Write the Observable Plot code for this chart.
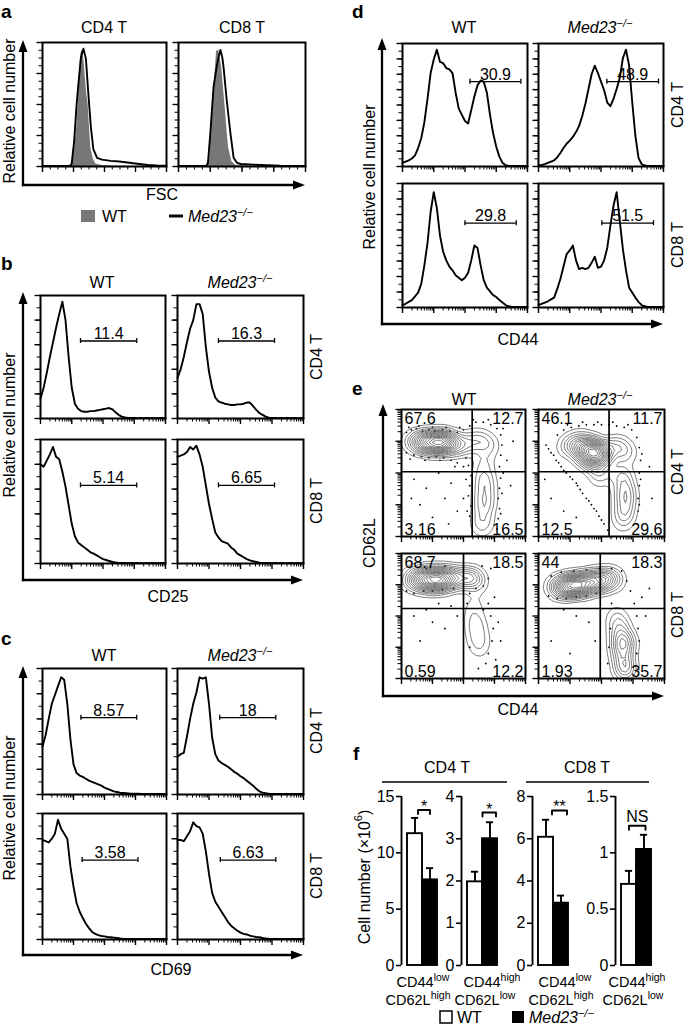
<!DOCTYPE html>
<html><head><meta charset="utf-8">
<script src="https://cdn.jsdelivr.net/npm/d3@7"></script>
<script src="https://cdn.jsdelivr.net/npm/@observablehq/plot@0.6"></script>
<style>
body{margin:0;background:#fff;}
#fig{position:relative;width:685px;height:1034px;overflow:hidden;background:#fff;}
</style></head><body><div id="fig"></div>
<script>
// ================= DATA =================
// Panel a: FSC histograms, [fraction of FSC range, relative cell number]
const aCD4_WT  = [[0,0],[0.22,0],[0.24,0.02],[0.26,0.15],[0.277,0.32],[0.29,0.55],[0.296,0.67],[0.305,0.85],[0.31,0.91],[0.317,0.94],[0.325,0.92],[0.335,0.85],[0.345,0.72],[0.355,0.6],[0.368,0.5],[0.378,0.33],[0.39,0.15],[0.41,0.06],[0.43,0.02],[0.48,0.008],[0.6,0.003],[1,0]];
const aCD4_Med = [[0,0.004],[0.22,0.005],[0.235,0.02],[0.255,0.2],[0.275,0.5],[0.29,0.67],[0.31,0.88],[0.33,0.95],[0.35,0.87],[0.368,0.61],[0.39,0.32],[0.41,0.14],[0.44,0.07],[0.48,0.055],[0.55,0.045],[0.62,0.04],[0.7,0.03],[0.78,0.02],[0.85,0.012],[0.92,0.008],[1,0.006]];
const aCD8_WT  = [[0,0],[0.23,0],[0.245,0.05],[0.26,0.37],[0.275,0.6],[0.29,0.78],[0.30,0.93],[0.316,0.94],[0.325,0.9],[0.34,0.8],[0.355,0.62],[0.37,0.45],[0.385,0.25],[0.395,0.15],[0.42,0.04],[0.45,0.01],[0.55,0.004],[1,0]];
const aCD8_Med = [[0,0.004],[0.22,0.005],[0.232,0.03],[0.25,0.26],[0.276,0.64],[0.30,0.8],[0.315,0.88],[0.33,0.94],[0.345,0.88],[0.355,0.8],[0.38,0.53],[0.41,0.26],[0.434,0.07],[0.46,0.03],[0.49,0.02],[0.59,0.015],[0.7,0.01],[0.8,0.006],[1,0.005]];

// Panels b-d: histograms on an even grid over 4 log decades (41 bins)
const bCD4_WT  = [0.16,0.25,0.37,0.50,0.62,0.74,0.85,0.95,0.80,0.50,0.25,0.12,0.08,0.06,0.055,0.055,0.06,0.06,0.065,0.07,0.075,0.08,0.085,0.075,0.05,0.03,0.015,0.008,0.005,0.004,0.005,0.003,0.004,0.003,0.004,0.003,0.004,0.003,0.003,0.004,0.003];
const bCD4_Med = [0.33,0.40,0.50,0.62,0.73,0.80,0.93,0.93,0.85,0.58,0.38,0.25,0.17,0.14,0.13,0.12,0.115,0.11,0.11,0.115,0.115,0.12,0.13,0.13,0.10,0.07,0.045,0.03,0.015,0.006,0.004,0.005,0.003,0.004,0.003,0.004,0.003,0.004,0.003,0.003,0.004];
const bCD8_WT  = [0.80,0.78,0.83,0.88,0.94,0.86,0.84,0.74,0.62,0.47,0.32,0.22,0.17,0.15,0.13,0.11,0.09,0.08,0.065,0.05,0.035,0.028,0.02,0.012,0.008,0.005,0.004,0.004,0.003,0.004,0.003,0.004,0.003,0.003,0.004,0.003,0.004,0.003,0.003,0.004,0.003];
const bCD8_Med = [0.86,0.87,0.88,0.90,0.94,0.92,0.95,0.88,0.78,0.63,0.48,0.36,0.25,0.21,0.18,0.17,0.16,0.13,0.11,0.08,0.065,0.05,0.035,0.025,0.018,0.012,0.006,0.005,0.004,0.004,0.003,0.004,0.003,0.004,0.003,0.003,0.004,0.003,0.004,0.003,0.003];
const cCD4_WT  = [0.38,0.47,0.60,0.72,0.79,0.86,0.93,0.91,0.72,0.44,0.24,0.17,0.15,0.14,0.125,0.11,0.10,0.09,0.08,0.07,0.055,0.045,0.035,0.025,0.02,0.014,0.012,0.01,0.008,0.007,0.006,0.006,0.005,0.005,0.004,0.005,0.004,0.004,0.005,0.004,0.004];
const cCD4_Med = [0.30,0.32,0.33,0.46,0.60,0.72,0.81,0.93,0.92,0.93,0.72,0.45,0.32,0.27,0.25,0.235,0.22,0.20,0.18,0.165,0.145,0.13,0.11,0.09,0.07,0.045,0.025,0.015,0.01,0.006,0.005,0.004,0.005,0.004,0.004,0.005,0.004,0.004,0.005,0.004,0.004];
const cCD8_WT  = [0.79,0.78,0.77,0.80,0.84,0.95,0.88,0.84,0.80,0.58,0.42,0.29,0.22,0.17,0.125,0.09,0.06,0.045,0.035,0.028,0.025,0.02,0.018,0.015,0.012,0.008,0.006,0.005,0.005,0.004,0.004,0.005,0.004,0.004,0.005,0.004,0.004,0.005,0.004,0.004,0.004];
const cCD8_Med = [0.79,0.79,0.78,0.82,0.86,0.93,0.90,0.89,0.84,0.70,0.52,0.37,0.30,0.26,0.22,0.18,0.14,0.11,0.09,0.07,0.055,0.045,0.04,0.03,0.025,0.02,0.018,0.012,0.008,0.006,0.005,0.005,0.004,0.005,0.004,0.004,0.005,0.004,0.004,0.004,0.004];
const dCD4_WT  = [0.03,0.04,0.05,0.065,0.09,0.15,0.23,0.36,0.55,0.76,0.87,0.95,0.85,0.84,0.80,0.79,0.76,0.60,0.47,0.42,0.37,0.35,0.46,0.57,0.66,0.70,0.69,0.60,0.42,0.27,0.16,0.08,0.03,0.01,0.005,0.004,0.005,0.004,0.004,0.005,0.004];
const dCD4_Med = [0.01,0.012,0.02,0.03,0.04,0.05,0.075,0.11,0.15,0.185,0.21,0.24,0.28,0.33,0.41,0.51,0.63,0.75,0.82,0.76,0.69,0.62,0.52,0.49,0.55,0.63,0.72,0.88,0.95,0.82,0.52,0.25,0.07,0.02,0.008,0.005,0.004,0.005,0.004,0.004,0.004];
const dCD8_WT  = [0.02,0.03,0.045,0.06,0.09,0.12,0.19,0.34,0.52,0.77,0.93,0.80,0.58,0.45,0.38,0.33,0.30,0.26,0.24,0.22,0.24,0.28,0.38,0.50,0.48,0.34,0.22,0.16,0.13,0.10,0.085,0.06,0.04,0.02,0.01,0.005,0.004,0.005,0.004,0.004,0.004];
const dCD8_Med = [0.02,0.03,0.04,0.05,0.065,0.08,0.15,0.23,0.33,0.43,0.46,0.50,0.38,0.31,0.32,0.31,0.32,0.36,0.41,0.32,0.33,0.38,0.48,0.66,0.82,0.93,0.70,0.47,0.30,0.16,0.12,0.08,0.045,0.02,0.01,0.005,0.004,0.005,0.004,0.004,0.004];

// gates: [x1, x2, y, percentage]
const bGates = [[0.32,0.77,0.63,"11.4"],[0.325,0.77,0.63,"16.3"],[0.32,0.77,0.63,"5.14"],[0.325,0.77,0.63,"6.65"]];
const cGates = [[0.31,0.76,0.61,"8.57"],[0.335,0.78,0.61,"18"],[0.32,0.77,0.63,"3.58"],[0.34,0.78,0.63,"6.63"]];
const dGates = [[0.54,0.947,0.69,"30.9"],[0.547,0.96,0.69,"48.9"],[0.50,0.91,0.68,"29.8"],[0.507,0.92,0.68,"51.5"]];

// Panel e: contour plots. seeds = [CD44, CD62L, weight]; outlier dots = [CD44, CD62L]
const eSeeds = [
  [[0.06,0.74,2],[0.10,0.75,4],[0.14,0.75,6],[0.18,0.74,8],[0.22,0.74,10],[0.26,0.74,12],[0.30,0.74,12],[0.34,0.745,11],[0.38,0.74,9],[0.42,0.73,6],[0.46,0.72,4],[0.50,0.72,3],[0.56,0.74,4],[0.62,0.76,5],[0.68,0.74,4],[0.72,0.7,2.5],[0.66,0.6,3],[0.66,0.52,4],[0.67,0.44,5],[0.67,0.36,6],[0.67,0.28,6],[0.66,0.2,5],[0.65,0.12,4],[0.65,0.06,3]],
  [[0.2,0.7,2],[0.26,0.72,4],[0.32,0.7,6],[0.38,0.68,9],[0.44,0.67,11],[0.48,0.66,10],[0.52,0.64,7],[0.42,0.6,5],[0.36,0.62,4],[0.46,0.56,4],[0.5,0.5,3],[0.48,0.44,2],[0.4,0.74,5],[0.3,0.76,3],[0.6,0.72,4],[0.66,0.7,4],[0.7,0.65,3.5],[0.66,0.5,4],[0.68,0.42,5],[0.69,0.34,6],[0.69,0.26,6],[0.68,0.18,5],[0.67,0.1,3]],
  [[0.05,0.78,2],[0.1,0.79,5],[0.15,0.8,8],[0.2,0.79,10],[0.25,0.79,12],[0.3,0.79,11],[0.35,0.8,9],[0.4,0.8,7],[0.45,0.8,5],[0.52,0.81,5],[0.57,0.81,6],[0.62,0.78,3],[0.6,0.66,1.5],[0.58,0.56,2],[0.59,0.46,3],[0.61,0.38,3.5],[0.62,0.3,3],[0.63,0.22,2]],
  [[0.12,0.73,3],[0.17,0.73,6],[0.22,0.74,9],[0.27,0.74,11],[0.32,0.75,10],[0.37,0.76,9],[0.42,0.77,8],[0.47,0.78,7],[0.52,0.79,6],[0.57,0.8,5],[0.62,0.79,3],[0.62,0.5,3],[0.64,0.42,4],[0.65,0.34,5],[0.66,0.26,6],[0.67,0.18,6],[0.68,0.1,5],[0.69,0.05,5],[0.7,0.3,4]]
];
const eDots = [
  [[0.04,0.82],[0.08,0.84],[0.12,0.85],[0.17,0.83],[0.22,0.84],[0.27,0.83],[0.33,0.84],[0.39,0.83],[0.45,0.82],[0.50,0.84],[0.55,0.87],[0.6,0.9],[0.66,0.9],[0.72,0.88],[0.77,0.85],[0.06,0.86],[0.14,0.87],[0.25,0.86],[0.36,0.86],[0.47,0.86],[0.58,0.92],[0.7,0.92],[0.04,0.66],[0.1,0.64],[0.16,0.63],[0.22,0.62],[0.28,0.63],[0.34,0.62],[0.4,0.6],[0.45,0.58],[0.5,0.55],[0.52,0.62],[0.07,0.61],[0.19,0.6],[0.31,0.6],[0.43,0.55],[0.8,0.8],[0.81,0.72],[0.8,0.64],[0.79,0.55],[0.8,0.46],[0.79,0.38],[0.78,0.3],[0.79,0.22],[0.78,0.14],[0.77,0.06],[0.82,0.5],[0.81,0.34],[0.8,0.18],[0.82,0.85],[0.56,0.48],[0.55,0.4],[0.54,0.32],[0.56,0.24],[0.55,0.16],[0.57,0.08],[0.52,0.45],[0.5,0.3],[0.53,0.2],[0.54,0.56],[0.1,0.45],[0.2,0.38],[0.3,0.5],[0.15,0.25],[0.35,0.3],[0.25,0.15],[0.4,0.42],[0.45,0.2],[0.08,0.3],[0.38,0.1],[0.85,0.6],[0.9,0.75],[0.88,0.4]],
  [[0.15,0.8],[0.2,0.84],[0.26,0.86],[0.32,0.87],[0.38,0.88],[0.44,0.88],[0.5,0.88],[0.56,0.88],[0.62,0.87],[0.68,0.86],[0.74,0.84],[0.78,0.78],[0.23,0.88],[0.35,0.9],[0.47,0.9],[0.59,0.9],[0.71,0.88],[0.06,0.72],[0.1,0.66],[0.14,0.6],[0.18,0.55],[0.22,0.5],[0.27,0.45],[0.31,0.4],[0.35,0.34],[0.4,0.28],[0.44,0.22],[0.48,0.16],[0.52,0.1],[0.55,0.05],[0.12,0.64],[0.2,0.52],[0.3,0.42],[0.38,0.3],[0.46,0.2],[0.08,0.69],[0.16,0.58],[0.25,0.47],[0.33,0.37],[0.42,0.25],[0.5,0.13],[0.8,0.7],[0.81,0.6],[0.8,0.5],[0.8,0.4],[0.79,0.3],[0.79,0.2],[0.78,0.1],[0.82,0.65],[0.81,0.45],[0.8,0.25],[0.1,0.3],[0.2,0.2],[0.05,0.45],[0.3,0.15],[0.88,0.55],[0.9,0.3]],
  [[0.04,0.7],[0.1,0.68],[0.18,0.7],[0.25,0.7],[0.33,0.71],[0.42,0.72],[0.5,0.7],[0.55,0.68],[0.6,0.72],[0.66,0.74],[0.7,0.8],[0.72,0.88],[0.65,0.9],[0.5,0.9],[0.35,0.9],[0.2,0.88],[0.7,0.6],[0.72,0.5],[0.74,0.4],[0.73,0.3],[0.7,0.2],[0.68,0.12],[0.75,0.65],[0.78,0.45],[0.66,0.55],[0.55,0.25],[0.53,0.6],[0.8,0.3],[0.76,0.15],[0.62,0.08],[0.1,0.5],[0.2,0.55],[0.3,0.6],[0.4,0.58],[0.15,0.3],[0.35,0.4],[0.45,0.5],[0.25,0.45]],
  [[0.08,0.66],[0.15,0.64],[0.22,0.64],[0.3,0.65],[0.38,0.66],[0.46,0.68],[0.1,0.82],[0.18,0.85],[0.28,0.86],[0.38,0.87],[0.48,0.88],[0.58,0.88],[0.66,0.86],[0.7,0.78],[0.73,0.7],[0.76,0.6],[0.78,0.5],[0.79,0.4],[0.8,0.3],[0.78,0.2],[0.77,0.1],[0.58,0.6],[0.57,0.4],[0.56,0.25],[0.55,0.12],[0.2,0.55],[0.3,0.5],[0.4,0.45],[0.1,0.3],[0.25,0.2],[0.45,0.3],[0.85,0.5],[0.88,0.72],[0.82,0.65]]
];
const eQuadX = [0.57, 0.56, 0.50, 0.49];
const eQuadY = [0.51, 0.51, 0.56, 0.56];
const eLabels = [["67.6","12.7","3.16","16.5"],["46.1","11.7","12.5","29.6"],["68.7","18.5","0.59","12.2"],["44","18.3","1.93","35.7"]];

// Panel f: cell numbers (x10^6)
const fSubsets = ["CD4 CD44low CD62Lhigh","CD4 CD44high CD62Llow","CD8 CD44low CD62Lhigh","CD8 CD44high CD62Llow"];
const fWT     = [11.7, 1.98, 6.07, 0.72];
const fWTErr  = [1.4, 0.24, 0.83, 0.12];
const fMed    = [7.6, 3.0, 2.95, 1.03];
const fMedErr = [1.04, 0.39, 0.36, 0.13];
const fMax    = [15, 4, 8, 1.5];
const fTicks  = [[0,5,10,15],[0,1,2,3,4],[0,2,4,6,8],[0,0.5,1,1.5]];
const fSig    = ["*","*","**","NS"];
const fSigY   = [13.8, 3.62, 7.34, 1.24];
const fCD44   = ["low","high","low","high"];
const fCD62L  = ["high","low","high","low"];

// ================= DRAWING =================
const FONT = '"Liberation Sans", Arial, Helvetica, sans-serif';
const FS = 16;
const fig = document.getElementById("fig");
function put(el, left, top) {
  el.style.position = "absolute";
  el.style.left = left + "px";
  el.style.top = top + "px";
  fig.appendChild(el);
}
const grid = v => v.map((y, i) => [i / (v.length - 1), y]);

const logT = {
  major: d3.range(0, 5).map(d => d / 4),
  minor: d3.range(0, 4).flatMap(d => d3.range(2, 10).map(k => (d + Math.log10(k)) / 4))
};
const lin16 = {major: d3.range(0, 17, 4).map(d => d / 16), minor: d3.range(0, 17).map(d => d / 16)};
const lin10 = {major: d3.range(0, 11, 2).map(d => d / 10), minor: d3.range(0, 11).map(d => d / 10)};
const lin16b = {major: d3.range(0, 17, 2).map(d => d / 16), minor: d3.range(0, 17).map(d => d / 16)};

// ticks drawn outside the frame through the x / y scales (lengths in px converted to data units)
function tickMarks(xt, yt, fw, fh) {
  const t = (len, size) => len / size;
  return [
    Plot.ruleX(xt.minor, {x: d => d, y1: 0, y2: -t(3.5, fh), stroke: "black", strokeWidth: 1}),
    Plot.ruleX(xt.major, {x: d => d, y1: 0, y2: -t(6, fh), stroke: "black", strokeWidth: 1.4}),
    Plot.ruleY(yt.minor, {y: d => d, x1: 0, x2: -t(3.5, fw), stroke: "black", strokeWidth: 1}),
    Plot.ruleY(yt.major, {y: d => d, x1: 0, x2: -t(5.5, fw), stroke: "black", strokeWidth: 1.4})
  ];
}

function baseOpts(fw, fh, ml, mr, mt, mb) {
  return {
    width: fw + ml + mr, height: fh + mt + mb,
    marginLeft: ml, marginRight: mr, marginTop: mt, marginBottom: mb,
    x: {domain: [0, 1], axis: null}, y: {domain: [0, 1], axis: null},
    style: {background: "none", overflow: "visible", fontFamily: FONT, fontSize: FS + "px", color: "black"}
  };
}

function hist(frame, curves, gate, xt, yt) {
  const [fx, fy, fw, fh] = frame;
  const ml = 8, mr = 2, mt = 2, mb = 8;
  const marks = [...tickMarks(xt, yt, fw, fh)];
  for (const c of curves) {
    if (c.fill) marks.push(Plot.areaY(c.pts, {x: d => d[0], y: d => d[1], fill: c.fill}));
    else marks.push(Plot.line(c.pts, {x: d => d[0], y: d => d[1], stroke: "black", strokeWidth: 1.9, strokeLinejoin: "round"}));
  }
  if (gate) {
    const [x1, x2, y, label] = gate;
    const cap = 2.5 / fh;
    marks.push(Plot.ruleY([y], {x1, x2, stroke: "black", strokeWidth: 1.3}));
    marks.push(Plot.ruleX([x1, x2], {y1: y - cap, y2: y + cap, stroke: "black", strokeWidth: 1.3}));
    marks.push(Plot.text([label], {x: (x1 + x2) / 2, y, text: d => d, dy: -2, lineAnchor: "bottom", fontSize: FS, fill: "black"}));
  }
  marks.push(Plot.frame({stroke: "black", strokeWidth: 2}));
  const p = Plot.plot({...baseOpts(fw, fh, ml, mr, mt, mb), marks});
  put(p, fx - ml, fy - mt);
}

// ---- a ----
hist([42, 42, 124, 124], [{pts: aCD4_WT, fill: "#777"}, {pts: aCD4_Med}], null, lin16, lin16);
hist([178, 42, 127, 124], [{pts: aCD8_WT, fill: "#777"}, {pts: aCD8_Med}], null, lin16, lin16);
// ---- b ----
hist([40, 295, 125, 123], [{pts: grid(bCD4_WT)}], bGates[0], logT, lin10);
hist([177, 295, 126, 123], [{pts: grid(bCD4_Med)}], bGates[1], logT, lin10);
hist([40, 439, 125, 124], [{pts: grid(bCD8_WT)}], bGates[2], logT, lin10);
hist([177, 439, 126, 124], [{pts: grid(bCD8_Med)}], bGates[3], logT, lin10);
// ---- c ----
hist([42, 668, 124, 126], [{pts: grid(cCD4_WT)}], cGates[0], logT, lin10);
hist([177, 668, 126, 126], [{pts: grid(cCD4_Med)}], cGates[1], logT, lin10);
hist([42, 813, 124, 126], [{pts: grid(cCD8_WT)}], cGates[2], logT, lin10);
hist([177, 813, 126, 126], [{pts: grid(cCD8_Med)}], cGates[3], logT, lin10);
// ---- d ----
hist([402, 43, 125, 123], [{pts: grid(dCD4_WT)}], dGates[0], logT, lin16b);
hist([538, 43, 125, 123], [{pts: grid(dCD4_Med)}], dGates[1], logT, lin16b);
hist([402, 183, 125, 124], [{pts: grid(dCD8_WT)}], dGates[2], logT, lin16b);
hist([538, 183, 125, 124], [{pts: grid(dCD8_Med)}], dGates[3], logT, lin16b);

// ---- e ----
const eFrames = [[401, 409, 124, 127], [538, 409, 126, 127], [401, 553, 124, 125], [538, 553, 126, 125]];
eFrames.forEach((fr, i) => {
  const [fx, fy, fw, fh] = fr;
  const ml = 8, mr = 2, mt = 2, mb = 8;
  const L = eLabels[i];
  const tx = {text: d => d, fontSize: FS, fill: "black"};
  const marks = [
    ...tickMarks(logT, logT, fw, fh),
    Plot.dot(eDots[i], {x: d => d[0], y: d => d[1], r: 0.9, fill: "black", stroke: null}),
    Plot.density(eSeeds[i], {x: d => d[0], y: d => d[1], weight: d => d[2], bandwidth: 5.5, thresholds: 16, stroke: "#444", strokeWidth: 0.7, clip: true}),
    Plot.ruleX([eQuadX[i]], {stroke: "black", strokeWidth: 1.7}),
    Plot.ruleY([eQuadY[i]], {stroke: "black", strokeWidth: 1.7}),
    Plot.text([L[0]], {...tx, frameAnchor: "top-left", textAnchor: "start", lineAnchor: "top", dx: 3, dy: 3}),
    Plot.text([L[1]], {...tx, frameAnchor: "top-right", textAnchor: "end", lineAnchor: "top", dx: -2, dy: 3}),
    Plot.text([L[2]], {...tx, frameAnchor: "bottom-left", textAnchor: "start", lineAnchor: "bottom", dx: 3, dy: -2}),
    Plot.text([L[3]], {...tx, frameAnchor: "bottom-right", textAnchor: "end", lineAnchor: "bottom", dx: -2, dy: -2}),
    Plot.frame({stroke: "black", strokeWidth: 2})
  ];
  const p = Plot.plot({...baseOpts(fw, fh, ml, mr, mt, mb), marks});
  put(p, fx - ml, fy - mt);
});

// ---- f ----
const fAxisX = [401, 461, 532, 615];
const fBracket = [[0.7, 1.5], [1.0, 1.9], [0.9, 1.9], [0.5, 1.6]];
fSubsets.forEach((name, i) => {
  const ml = 34, mt = 10, mb = 4, innerH = 169, innerW = 44;
  const bars = [
    {x1: 0, x2: 1, v: fWT[i], e: fWTErr[i], fill: "white"},
    {x1: 1, x2: 2, v: fMed[i], e: fMedErr[i], fill: "black"}
  ];
  const yM = fMax[i];
  const drop = 4 / innerH * yM;
  const [bx1, bx2] = fBracket[i];
  const by = fSigY[i];
  const bracket = [[bx1, by - drop], [bx1, by], [bx2, by], [bx2, by - drop]];
  const pad = 6 / 15;
  const p = Plot.plot({
    width: ml + innerW, height: mt + innerH + mb,
    marginLeft: ml, marginRight: 0, marginTop: mt, marginBottom: mb,
    x: {domain: [-pad, 2 + (innerW - 36) / 15], range: [ml, ml + innerW], axis: null},
    y: {domain: [0, yM], axis: null},
    style: {background: "none", overflow: "visible", fontFamily: FONT, fontSize: FS + "px", color: "black"},
    marks: [
      Plot.axisY({ticks: fTicks[i], tickSize: 5, tickPadding: 2, tickFormat: d => String(d), label: null, anchor: "left", fontSize: FS, strokeWidth: 1.6}),
      Plot.ruleX([-pad], {y1: 0, y2: yM, stroke: "black", strokeWidth: 1.9}),
      Plot.ruleX(bars, {x: d => (d.x1 + d.x2) / 2, y1: "v", y2: d => d.v + d.e, stroke: "black", strokeWidth: 1.9}),
      Plot.ruleY(bars, {y: d => d.v + d.e, x1: d => (d.x1 + d.x2) / 2 - 0.24, x2: d => (d.x1 + d.x2) / 2 + 0.24, stroke: "black", strokeWidth: 1.9}),
      Plot.rectY(bars, {x1: "x1", x2: "x2", y1: 0, y2: "v", fill: "fill", stroke: "black", strokeWidth: 1.9}),
      Plot.line(bracket, {x: d => d[0], y: d => d[1], stroke: "black", strokeWidth: 1.9}),
      Plot.text([fSig[i]], {x: (bx1 + bx2) / 2, y: by, text: d => d, dy: fSig[i] === "NS" ? -4 : 2, lineAnchor: "bottom", fontSize: FS, fill: "black"})
    ]
  });
  put(p, fAxisX[i] - ml, 796 - mt);
});

// ---- overlay: letters, titles, arrows, axis names, legends ----
const ov = d3.select(fig).append("svg").attr("width", 685).attr("height", 1034)
  .style("position", "absolute").style("left", "0px").style("top", "0px")
  .attr("font-family", FONT).attr("font-size", FS).attr("fill", "black");

function text(x, y, s, o = {}) {
  const t = ov.append("text").attr("x", x).attr("y", y)
    .attr("text-anchor", o.anchor || "middle").attr("font-size", o.size || FS);
  if (o.weight) t.attr("font-weight", o.weight);
  if (o.rotate) t.attr("transform", `rotate(${o.rotate},${x},${y})`).attr("dominant-baseline", "central");
  if (s) t.text(s);
  return t;
}
function medText(x, y, o = {}) {
  const t = text(x, y, "", o);
  t.append("tspan").attr("font-style", "italic").text("Med23");
  t.append("tspan").attr("font-style", "italic").attr("font-size", 11).attr("dy", -6).text("\u2212/\u2212");
  return t;
}
function arrow(x1, y1, x2, y2) {
  const L = 12, W = 4.5;
  const dx = x2 - x1, dy = y2 - y1, len = Math.hypot(dx, dy), ux = dx / len, uy = dy / len;
  const bx = x2 - ux * L, by = y2 - uy * L;
  ov.append("line").attr("x1", x1).attr("y1", y1).attr("x2", bx + ux * 2).attr("y2", by + uy * 2)
    .attr("stroke", "black").attr("stroke-width", 2.3).attr("stroke-linecap", "square");
  ov.append("path").attr("d", `M${x2},${y2}L${bx - uy * W},${by + ux * W}L${bx + uy * W},${by - ux * W}Z`).attr("fill", "black");
}

// panel letters
[["a", 1, 18], ["b", 1, 270], ["c", 1, 645], ["d", 352, 18], ["e", 352, 395], ["f", 353, 760]]
  .forEach(([s, x, y]) => text(x, y, s, {anchor: "start", weight: "bold", size: 19}));

// a
text(104, 33, "CD4 T"); text(242, 33, "CD8 T");
arrow(23, 185, 23, 40); arrow(23, 185, 305, 185);
text(9, 111, "Relative cell number", {rotate: -90});
text(162, 200, "FSC");
ov.append("rect").attr("x", 81).attr("y", 210).attr("width", 14).attr("height", 12).attr("fill", "#777");
text(102, 222, "WT", {anchor: "start"});
ov.append("line").attr("x1", 169).attr("x2", 183).attr("y1", 216).attr("y2", 216).attr("stroke", "black").attr("stroke-width", 3);
medText(188, 222, {anchor: "start"});

// b
text(102, 288, "WT"); medText(240, 288);
arrow(23, 580, 23, 292); arrow(23, 580, 303, 580);
text(9, 425, "Relative cell number", {rotate: -90});
text(168, 602, "CD25");
text(316, 357, "CD4 T", {rotate: -90}); text(316, 501, "CD8 T", {rotate: -90});

// c
text(104, 661, "WT"); medText(240, 661);
arrow(23, 955, 23, 666); arrow(23, 955, 303, 955);
text(9, 808, "Relative cell number", {rotate: -90});
text(171, 975, "CD69");
text(316, 731, "CD4 T", {rotate: -90}); text(316, 876, "CD8 T", {rotate: -90});

// d
text(464, 33, "WT"); medText(600, 33);
arrow(382, 324, 382, 38); arrow(382, 324, 663, 324);
text(369, 177, "Relative cell number", {rotate: -90});
text(518, 345, "CD44");
text(677, 105, "CD4 T", {rotate: -90}); text(677, 245, "CD8 T", {rotate: -90});

// e
text(464, 405, "WT"); medText(600, 405);
arrow(383, 696, 383, 404); arrow(383, 696, 664, 696);
text(369, 543, "CD62L", {rotate: -90});
text(518, 715, "CD44");
text(677, 472, "CD4 T", {rotate: -90}); text(677, 615, "CD8 T", {rotate: -90});

// f
text(447, 773, "CD4 T"); text(587, 773, "CD8 T");
ov.append("line").attr("x1", 382).attr("x2", 507).attr("y1", 782).attr("y2", 782).attr("stroke", "black").attr("stroke-width", 1.7);
ov.append("line").attr("x1", 526).attr("x2", 649).attr("y1", 782).attr("y2", 782).attr("stroke", "black").attr("stroke-width", 1.7);
{
  const t = text(364, 877, "", {rotate: -90});
  t.append("tspan").text("Cell number (\u00d710");
  t.append("tspan").attr("font-size", 11).attr("dy", -6).text("6");
  t.append("tspan").attr("dy", 6).text(")");
}
const fLabel1X = [423, 492, 565, 637];
const fLabel2X = [418, 485, 561, 633];
fSubsets.forEach((name, i) => {
  const t1 = text(fLabel1X[i], 987, "", {size: 14.5});
  t1.append("tspan").text("CD44");
  t1.append("tspan").attr("font-size", 10.5).attr("dy", -6).text(fCD44[i]);
  const t2 = text(fLabel2X[i], 1005, "", {size: 14.5});
  t2.append("tspan").text("CD62L");
  t2.append("tspan").attr("font-size", 10.5).attr("dy", -6).text(fCD62L[i]);
});
ov.append("rect").attr("x", 440).attr("y", 1011).attr("width", 12).attr("height", 12).attr("fill", "white").attr("stroke", "black").attr("stroke-width", 1.5);
text(457, 1023, "WT", {anchor: "start"});
ov.append("rect").attr("x", 512).attr("y", 1011).attr("width", 12).attr("height", 12).attr("fill", "black");
medText(529, 1023, {anchor: "start"});
</script></body></html>
